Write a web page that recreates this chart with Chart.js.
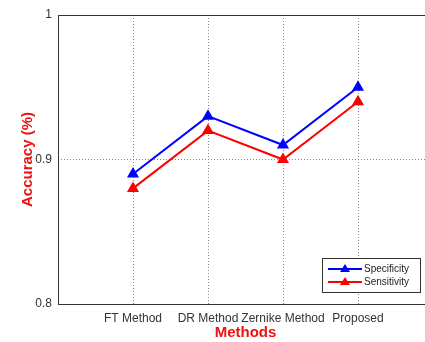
<!DOCTYPE html>
<html lang="en">
<head>
    <meta charset="UTF-8">
    <title>Accuracy by Method</title>
    <script src="https://cdn.jsdelivr.net/npm/chart.js"></script>
    <style>
        body { margin: 0; background: #fff; overflow: hidden; }
        #wrap { width: 440px; height: 342px; }
    </style>
</head>
<body>
    <div id="wrap"><canvas id="accChart"></canvas></div>

    <script>
        const methods = ['FT Method', 'DR Method', 'Zernike Method', 'Proposed'];
        const specificity = [0.89, 0.93, 0.91, 0.95];
        const sensitivity = [0.88, 0.92, 0.90, 0.94];
        const yTicks = [0.8, 0.9, 1];

        const toPoints = arr => arr.map((v, i) => ({ x: i + 1, y: v }));
        const FONT = '"Liberation Sans", Arial, sans-serif';

        // box around plot + MATLAB style legend
        const framePlugin = {
            id: 'frame',
            afterDraw(chart) {
                const { ctx, chartArea: a } = chart;
                ctx.save();
                ctx.strokeStyle = '#333';
                ctx.lineWidth = 1;
                ctx.strokeRect(a.left + 0.5, a.top + 0.5, a.right - a.left, a.bottom - a.top);

                const bx = 322, by = 258, bw = 98, bh = 34;
                ctx.fillStyle = '#fff';
                ctx.fillRect(bx, by, bw, bh);
                ctx.strokeRect(bx + 0.5, by + 0.5, bw, bh);
                chart.data.datasets.forEach((ds, i) => {
                    const y = by + 11 + i * 13;
                    ctx.strokeStyle = ds.borderColor;
                    ctx.lineWidth = 2;
                    ctx.beginPath();
                    ctx.moveTo(bx + 6, y);
                    ctx.lineTo(bx + 40, y);
                    ctx.stroke();
                    ctx.fillStyle = ds.borderColor;
                    ctx.beginPath();
                    ctx.moveTo(bx + 23, y - 5);
                    ctx.lineTo(bx + 28, y + 3);
                    ctx.lineTo(bx + 18, y + 3);
                    ctx.closePath();
                    ctx.fill();
                    ctx.fillStyle = '#222';
                    ctx.font = '10px ' + FONT;
                    ctx.textBaseline = 'middle';
                    ctx.fillText(ds.label, bx + 42, y);
                });
                ctx.restore();
            }
        };

        new Chart(document.getElementById('accChart'), {
            type: 'line',
            data: {
                datasets: [{
                    label: 'Specificity',
                    data: toPoints(specificity),
                    borderColor: '#0000ff',
                    backgroundColor: '#0000ff',
                    borderWidth: 2,
                    pointStyle: 'triangle',
                    pointRadius: 5,
                    tension: 0
                }, {
                    label: 'Sensitivity',
                    data: toPoints(sensitivity),
                    borderColor: '#ff0000',
                    backgroundColor: '#ff0000',
                    borderWidth: 2,
                    pointStyle: 'triangle',
                    pointRadius: 5,
                    tension: 0
                }]
            },
            options: {
                responsive: true,
                maintainAspectRatio: false,
                animation: false,
                layout: { padding: { top: 15, right: 7, left: 0, bottom: 0 } },
                plugins: { legend: { display: false }, tooltip: { enabled: false } },
                scales: {
                    x: {
                        type: 'linear',
                        min: 0,
                        max: methods.length + 1,
                        afterBuildTicks: s => { s.ticks = [0, 1, 2, 3, 4, 5].map(v => ({ value: v })); },
                        afterFit: s => { s.height = 38; },
                        ticks: {
                            autoSkip: false,
                            maxRotation: 0,
                            padding: 7,
                            color: '#333',
                            font: { family: FONT, size: 12 },
                            callback: v => methods[v - 1] || ''
                        },
                        grid: {
                            color: ctx => (ctx.tick && ctx.tick.value > 0 && ctx.tick.value < 5) ? '#888' : 'transparent',
                            tickLength: 0,
                            drawTicks: false
                        },
                        border: { display: false, dash: [1, 2] },
                        title: {
                            display: true,
                            text: 'Methods',
                            color: '#ee1111',
                            padding: { top: 0, bottom: 0 },
                            font: { family: FONT, size: 15, weight: 'bold' }
                        }
                    },
                    y: {
                        min: 0.8,
                        max: 1,
                        afterBuildTicks: s => { s.ticks = yTicks.map(v => ({ value: v })); },
                        afterFit: s => { s.width = 58; },
                        ticks: {
                            padding: 6,
                            color: '#333',
                            font: { family: FONT, size: 12 },
                            callback: v => String(Math.round(v * 10) / 10)
                        },
                        grid: {
                            color: ctx => (ctx.tick && ctx.tick.value > 0.81 && ctx.tick.value < 0.99) ? '#888' : 'transparent',
                            drawTicks: false
                        },
                        border: { display: false, dash: [1, 2] },
                        title: {
                            display: true,
                            text: 'Accuracy (%)',
                            color: '#ee1111',
                            padding: { top: 19, bottom: 0 },
                            font: { family: FONT, size: 15, weight: 'bold' }
                        }
                    }
                }
            },
            plugins: [framePlugin]
        });
    </script>
</body>
</html>
